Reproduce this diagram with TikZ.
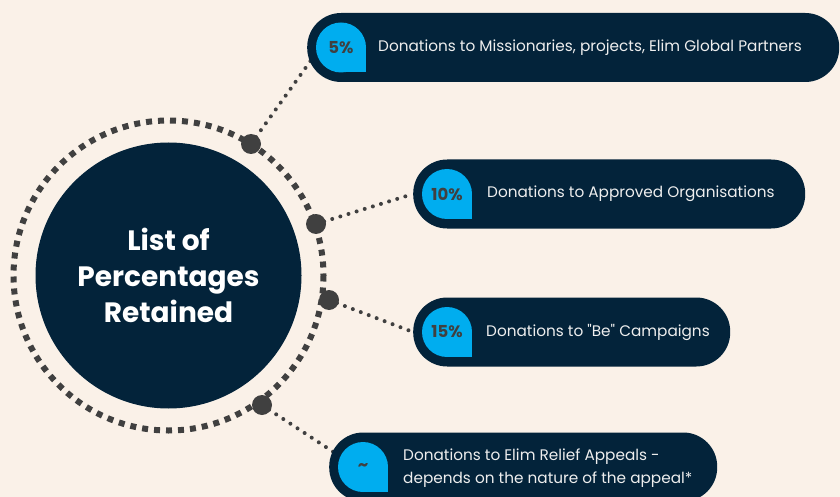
\documentclass[tikz,border=0pt]{standalone}
\usepackage{fontspec}
\setmainfont{Poppins}
\newfontfamily\rawpop{Poppins}[Ligatures=ResetAll]
\usetikzlibrary{calc}
\definecolor{cream}{HTML}{FAF1E8}
\definecolor{navy}{HTML}{03233A}
\definecolor{sky}{HTML}{00ADEF}
\definecolor{dotgray}{HTML}{404040}
\definecolor{pilltext}{HTML}{EEEEEE}
\pgfdeclarelayer{bg}
\pgfdeclarelayer{conn}
\pgfsetlayers{bg,conn,main}
\tikzset{
  hub/.style={circle, fill=navy, minimum size=266pt, inner sep=0pt, text=white, align=center,
    font=\fontsize{28}{36}\selectfont\bfseries},
  pill/.style={rectangle, rounded corners=34pt, fill=navy, minimum height=69pt, anchor=west, inner sep=0pt},
  drop/.style={circle, fill=sky, minimum size=50pt, inner sep=0pt, text=dotgray,
    font=\fontsize{16.5}{18}\selectfont\bfseries},
  ptext/.style={anchor=west, text=pilltext, align=left, inner sep=0pt,
    font=\fontsize{15.3}{23}\selectfont},
  bigdot/.style={circle, fill=dotgray, minimum size=20pt, inner sep=0pt},
  ring/.style={draw=dotgray, line width=6pt, dash pattern=on 6pt off 6pt},
  conn/.style={draw=dotgray, line width=4pt, line cap=round, dash pattern=on 0pt off 8.5pt},
}
\begin{document}
\begin{tikzpicture}[x=1pt,y=-1pt]
\begin{pgfonlayer}{bg}
\fill[cream] (0,0) rectangle (840,497);
\end{pgfonlayer}
\useasboundingbox (0,0) rectangle (840,497);
% hub and ring
\node[hub] (hub) at (168.5,275.5) {List of\\Percentages\\Retained};
\draw[ring] (hub.center) circle (155);
% pills
\node[pill, minimum width=532pt] (p1) at (307,47.5) {};
\node[pill, minimum width=392pt] (p2) at (413,194) {};
\node[pill, minimum width=317pt] (p3) at (413,332) {};
\node[pill, minimum width=388pt] (p4) at (329,467) {};
% drops
\foreach \i/\t in {1/5\%,2/10\%,3/15\%,4/\textasciitilde}{
  \node[drop] (t\i) at ($(p\i.west)+(34,0)$) {};
  \fill[sky] (t\i.center) rectangle ($(t\i.center)+(25,25)$);
  \node[drop, fill=none] (l\i) at (t\i.center) {\t};
}
% texts
\node[ptext] (x1) at (378,47.5) {Donations to Missionaries, projects, Elim Global Partners};
\node[ptext] (x2) at (487,194) {Donations to Approved Organisations};
\node[ptext] (x3) at (486,332) {Donations to {\rawpop"}Be{\rawpop"} Campaigns};
\node[ptext] (x4) at (403,468) {Donations to Elim Relief Appeals -\\depends on the nature of the appeal*};
% big dots
\node[bigdot] (d1) at (251,144) {};
\node[bigdot] (d2) at (316,224) {};
\node[bigdot] (d3) at (329,300) {};
\node[bigdot] (d4) at (262,405) {};
% connectors
\begin{pgfonlayer}{conn}
\draw[conn] (d1.center) -- ($(p1.west)+(6,10)$);
\draw[conn] (d2.center) -- (p2.west);
\draw[conn] (d3.center) -- (p3.west);
\draw[conn] (d4.center) -- ($(p4.west)+(6,-14)$);
\end{pgfonlayer}
\end{tikzpicture}
\end{document}
